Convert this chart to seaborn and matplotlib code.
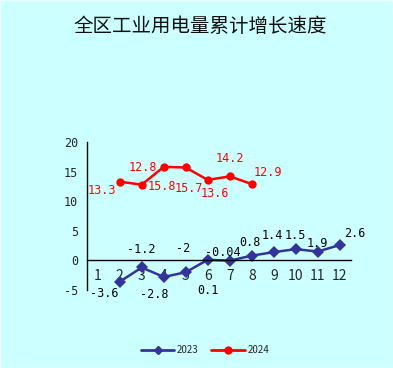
import numpy as np
import pandas as pd
import matplotlib
matplotlib.use("Agg")
import matplotlib.pyplot as plt
import seaborn as sns

# 数据
months = list(range(1, 13))
month_labels = [str(m) for m in months]
m2023 = [2, 3, 4, 5, 6, 7, 8, 9, 10, 11, 12]
v2023 = [-3.6, -1.2, -2.8, -2.0, 0.1, -0.04, 0.8, 1.4, 1.9, 1.5, 2.6]
t2023 = ["-3.6", "-1.2", "-2.8", "-2", "0.1", "-0.04", "0.8", "1.4", "1.5", "1.9", "2.6"]
m2024 = [2, 3, 4, 5, 6, 7, 8]
v2024 = [13.3, 12.8, 15.8, 15.7, 13.6, 14.2, 12.9]
t2024 = ["13.3", "12.8", "15.8", "15.7", "13.6", "14.2", "12.9"]

# 标签偏移 (points)
off2023 = [(-10.8, -8.5), (0, 13), (-6.5, -12.6), (-2, 17.3), (0, -22), (-5, 6.1),
           (-1, 9.8), (-1, 12), (0, 10), (0, 6.1), (11, 8.6)]
off2024 = [(-12.6, -6.5), (1, 12.5), (-1.5, -13.9), (2, -14.8), (5, -9.5), (0, 13), (11.5, 8.6)]

df = pd.concat([
    pd.DataFrame({"月": m2023, "值": v2023, "年": "2023"}),
    pd.DataFrame({"月": m2024, "值": v2024, "年": "2024"}),
])

sns.set_style("white")
plt.rcParams["font.family"] = ["Noto Sans CJK SC", "DejaVu Sans"]
bg = "#CCFFFF"
num_font = "DejaVu Sans Mono"

fig = plt.figure(figsize=(3.93, 3.68), dpi=100, facecolor=bg)
ax = fig.add_axes([0.2206, 0.212, 0.672, 0.402])
ax.set_facecolor(bg)

sns.lineplot(data=df, x="月", y="值", hue="年", style="年",
             palette={"2023": "#333399", "2024": "#FF0000"},
             markers={"2023": "D", "2024": "o"}, dashes=False,
             linewidth=1.8, markersize=6, markeredgewidth=0, ax=ax, legend=False)

for x, y, t, o in zip(m2023, v2023, t2023, off2023):
    ax.annotate(t, (x, y), xytext=o, textcoords="offset points",
                ha="center", va="center", fontsize=8.5, color="black", family=num_font)
for x, y, t, o in zip(m2024, v2024, t2024, off2024):
    ax.annotate(t, (x, y), xytext=o, textcoords="offset points",
                ha="center", va="center", fontsize=8.5, color="red", family=num_font)

ax.set_xlim(0.5, 12.5)
ax.set_ylim(-5, 20)
ax.set_yticks([-5, 0, 5, 10, 15, 20])
ax.set_yticklabels(["-5", "0", "5", "10", "15", "20"], family=num_font, fontsize=8.5)
ax.set_xticks(np.arange(0.5, 13, 1))
ax.set_xticklabels([])
ax.set_xticks(months, minor=True)
ax.set_xticklabels(month_labels, minor=True, fontsize=8.5, family=num_font)
ax.tick_params(axis="x", which="minor", length=0, pad=6)
ax.tick_params(axis="x", which="major", direction="in", length=4, color="black")
ax.tick_params(axis="y", direction="in", length=4, color="black", pad=6)
ax.spines["bottom"].set_position(("data", 0))
ax.spines["top"].set_visible(False)
ax.spines["right"].set_visible(False)
for s in ["left", "bottom"]:
    ax.spines[s].set_color("black")
    ax.spines[s].set_linewidth(1)
ax.set_xlabel("")
ax.set_ylabel("")

fig.text(0.51, 0.927, "全区工业用电量累计增长速度", ha="center", va="center", fontsize=14, color="#111111")

h1 = plt.Line2D([], [], color="#333399", marker="D", markersize=4, linewidth=2)
h2 = plt.Line2D([], [], color="#FF0000", marker="o", markersize=5, linewidth=2)
fig.legend([h1, h2], ["2023", "2024"], loc="center", bbox_to_anchor=(0.522, 0.048),
           ncol=2, frameon=False, fontsize=7, handlelength=3.4, columnspacing=1.3, handletextpad=0.3)

fig.add_artist(plt.Rectangle((0, 0), 1, 1, transform=fig.transFigure, fill=False,
                             edgecolor="#EEFFFF", linewidth=1))
fig.savefig("out.png", dpi=100, facecolor=bg)
